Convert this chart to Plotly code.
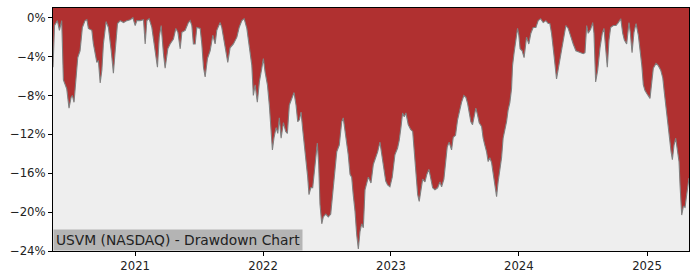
import plotly.graph_objects as go
import pandas as pd

# decimal-year time stamps and drawdown (%)
years = [2020.359, 2020.371, 2020.393, 2020.409, 2020.427, 2020.440, 2020.466, 2020.484, 2020.500, 2020.510,
         2020.523, 2020.539, 2020.552, 2020.570, 2020.588, 2020.609, 2020.623, 2020.635, 2020.662, 2020.674,
         2020.701, 2020.713, 2020.727, 2020.740, 2020.752, 2020.773, 2020.791, 2020.813, 2020.830, 2020.844,
         2020.862, 2020.883, 2020.909, 2020.935, 2020.961, 2020.982, 2021.000, 2021.013, 2021.039, 2021.065,
         2021.078, 2021.091, 2021.109, 2021.130, 2021.148, 2021.162, 2021.174, 2021.188, 2021.203, 2021.221,
         2021.234, 2021.255, 2021.273, 2021.299, 2021.318, 2021.334, 2021.352, 2021.365, 2021.391, 2021.416,
         2021.430, 2021.443, 2021.455, 2021.469, 2021.482, 2021.508, 2021.521, 2021.534, 2021.547, 2021.565,
         2021.586, 2021.607, 2021.625, 2021.638, 2021.651, 2021.664, 2021.677, 2021.690, 2021.709, 2021.724,
         2021.742, 2021.768, 2021.795, 2021.813, 2021.834, 2021.852, 2021.873, 2021.893, 2021.912, 2021.924,
         2021.938, 2021.955, 2021.971, 2021.990, 2022.002, 2022.016, 2022.034, 2022.049, 2022.060, 2022.073,
         2022.086, 2022.102, 2022.115, 2022.127, 2022.141, 2022.159, 2022.177, 2022.190, 2022.205, 2022.224,
         2022.242, 2022.258, 2022.271, 2022.284, 2022.297, 2022.310, 2022.323, 2022.336, 2022.349, 2022.359,
         2022.373, 2022.388, 2022.406, 2022.424, 2022.435, 2022.445, 2022.459, 2022.471, 2022.490, 2022.510,
         2022.529, 2022.545, 2022.557, 2022.576, 2022.596, 2022.615, 2022.627, 2022.641, 2022.654, 2022.666,
         2022.680, 2022.693, 2022.705, 2022.719, 2022.732, 2022.745, 2022.758, 2022.771, 2022.784, 2022.797,
         2022.823, 2022.844, 2022.862, 2022.880, 2022.896, 2022.914, 2022.927, 2022.940, 2022.959, 2022.974,
         2022.992, 2023.010, 2023.031, 2023.052, 2023.065, 2023.078, 2023.091, 2023.104, 2023.117, 2023.135,
         2023.154, 2023.170, 2023.182, 2023.195, 2023.209, 2023.221, 2023.234, 2023.248, 2023.266, 2023.281,
         2023.297, 2023.313, 2023.326, 2023.344, 2023.365, 2023.383, 2023.396, 2023.414, 2023.427, 2023.440,
         2023.455, 2023.474, 2023.487, 2023.505, 2023.521, 2023.539, 2023.552, 2023.570, 2023.586, 2023.599,
         2023.612, 2023.625, 2023.638, 2023.651, 2023.664, 2023.677, 2023.690, 2023.709, 2023.721, 2023.734,
         2023.748, 2023.760, 2023.773, 2023.787, 2023.799, 2023.813, 2023.826, 2023.838, 2023.852, 2023.865,
         2023.877, 2023.891, 2023.904, 2023.916, 2023.930, 2023.943, 2023.951, 2023.963, 2023.982, 2023.990,
         2024.000, 2024.010, 2024.026, 2024.041, 2024.060, 2024.078, 2024.094, 2024.112, 2024.133, 2024.151,
         2024.170, 2024.190, 2024.211, 2024.229, 2024.242, 2024.255, 2024.273, 2024.294, 2024.315, 2024.334,
         2024.346, 2024.367, 2024.385, 2024.404, 2024.424, 2024.445, 2024.463, 2024.484, 2024.502, 2024.516,
         2024.529, 2024.541, 2024.560, 2024.576, 2024.586, 2024.599, 2024.615, 2024.633, 2024.651, 2024.664,
         2024.677, 2024.690, 2024.703, 2024.716, 2024.737, 2024.758, 2024.776, 2024.795, 2024.810, 2024.823,
         2024.841, 2024.852, 2024.859, 2024.870, 2024.883, 2024.898, 2024.914, 2024.932, 2024.945, 2024.959,
         2024.971, 2024.984, 2024.998, 2025.016, 2025.023, 2025.037, 2025.049, 2025.070, 2025.086, 2025.107,
         2025.123, 2025.135, 2025.148, 2025.162, 2025.174, 2025.188, 2025.198, 2025.211, 2025.224, 2025.237,
         2025.250, 2025.258, 2025.271, 2025.284, 2025.297, 2025.310, 2025.323, 2025.328]

drawdown = [-5.1, -0.8, -0.3, -1.3, -0.3, -6.4, -7.3, -9.3, -8.2, -8.0,
            -8.7, -5.7, -4.1, -3.4, -1.0, -0.3, -0.2, -1.1, -1.3, -2.7,
            -4.6, -4.4, -6.7, -5.4, -2.7, -0.4, -1.0, -3.4, -5.7, -3.4,
            -0.6, -0.3, -0.5, -0.3, -0.2, 0.0, -0.8, -0.3, -0.3, -0.2,
            -2.7, -0.3, -0.1, -1.0, -2.7, -3.6, -5.1, -2.0, -0.8, -3.7,
            -5.2, -3.2, -2.7, -2.2, -1.1, -1.5, -3.2, -1.5, -1.3, -0.5,
            -0.3, -0.8, -2.7, -2.7, -1.0, -1.1, -2.7, -5.1, -6.1, -4.2,
            -3.4, -1.8, -2.7, -1.3, -0.8, -0.5, -1.0, -2.0, -3.4, -4.6,
            -3.1, -2.7, -2.0, -1.0, -0.3, -0.1, -1.1, -2.9, -4.9, -8.0,
            -6.9, -8.7, -6.6, -5.2, -4.2, -5.6, -6.9, -9.0, -11.3, -13.6,
            -12.3, -11.3, -11.9, -10.3, -12.4, -10.8, -11.7, -11.9, -9.0, -8.3,
            -7.7, -9.0, -10.7, -10.5, -9.7, -11.5, -13.1, -14.4, -16.4, -18.2,
            -17.5, -17.5, -14.8, -12.9, -15.1, -19.2, -21.2, -20.5, -20.2, -20.5,
            -20.2, -17.9, -15.8, -13.8, -13.1, -10.7, -10.3, -11.7, -12.8, -14.1,
            -16.1, -16.4, -18.2, -19.9, -22.3, -23.8, -22.0, -21.2, -21.6, -17.7,
            -16.4, -17.0, -15.1, -14.4, -13.8, -12.8, -14.1, -15.1, -16.8, -17.2,
            -17.4, -16.4, -14.1, -13.4, -12.6, -11.3, -9.8, -10.2, -9.8, -11.0,
            -11.5, -11.7, -13.8, -16.4, -18.2, -18.9, -17.9, -16.6, -16.9, -16.1,
            -15.6, -16.6, -17.5, -17.7, -17.5, -16.9, -17.4, -16.6, -14.8, -13.3,
            -12.8, -13.6, -12.3, -12.1, -10.5, -9.3, -8.7, -8.0, -8.2, -8.8,
            -9.7, -10.7, -11.0, -10.0, -9.3, -10.0, -10.8, -11.2, -12.4, -13.1,
            -13.8, -14.8, -14.4, -14.9, -16.1, -17.4, -18.4, -16.9, -15.6, -14.4,
            -12.4, -11.5, -10.7, -9.5, -8.7, -7.3, -4.9, -3.6, -1.8, -1.1,
            -1.8, -3.2, -3.4, -4.1, -2.0, -2.7, -1.6, -1.0, -1.0, -0.3,
            -0.1, -0.5, -0.3, -0.6, -0.6, -1.6, -3.7, -6.3, -4.7, -3.2,
            -2.0, -0.8, -1.1, -2.0, -2.7, -3.4, -3.5, -3.6, -3.7, -3.6,
            -0.8, -1.6, -1.2, -0.5, -1.6, -6.6, -5.4, -3.1, -1.6, -1.1,
            -3.4, -5.1, -2.3, -1.0, -0.8, -0.8, -0.5, -0.1, -1.6, -2.3,
            -2.7, -1.6, -0.5, -1.6, -3.6, -1.5, -0.6, -1.8, -3.2, -4.9,
            -6.9, -7.5, -7.8, -8.2, -8.3, -6.6, -5.2, -4.7, -4.9, -5.4,
            -6.2, -7.7, -9.3, -11.0, -12.4, -13.8, -14.6, -13.1, -12.4, -13.4,
            -14.8, -17.2, -20.3, -19.4, -19.5, -18.2, -16.8, -16.5]

y_ticks = [0, -4, -8, -12, -16, -20, -24]
y_tick_labels = ["0%", "\u22124%", "\u22128%", "\u221212%", "\u221216%", "\u221220%", "\u221224%"]
x_tick_years = [2021, 2022, 2023, 2024, 2025]
title_text = "USVM (NASDAQ) - Drawdown Chart"

Y_MIN, Y_MAX = -24.0, 1.0


def to_date(t):
    yr = int(t)
    start = pd.Timestamp(yr, 1, 1)
    end = pd.Timestamp(yr + 1, 1, 1)
    return start + (t - yr) * (end - start)


dates = [to_date(t) for t in years]
top = [Y_MAX] * len(dates)

fig = go.Figure()
fig.add_trace(go.Scatter(x=dates, y=top, mode="lines", line=dict(width=0, color="rgba(0,0,0,0)"),
                         hoverinfo="skip", showlegend=False))
fig.add_trace(go.Scatter(x=dates, y=drawdown, mode="lines", fill="tonexty",
                         fillcolor="#b03030", line=dict(color="#808080", width=1.1),
                         showlegend=False))

fig.update_layout(
    width=700, height=280,
    margin=dict(l=53, r=11, t=7, b=28),
    paper_bgcolor="white",
    plot_bgcolor="#eeeeee",
    font=dict(family="DejaVu Sans", size=11.7, color="#222222"),
    xaxis=dict(
        type="date",
        range=[dates[0], dates[-1]],
        tickvals=[pd.Timestamp(y, 1, 1) for y in x_tick_years],
        ticktext=[str(y) for y in x_tick_years],
        ticks="outside", ticklen=4, tickcolor="black", tickwidth=1,
        showgrid=False, zeroline=False,
        showline=True, linecolor="black", linewidth=1, mirror=True,
    ),
    yaxis=dict(
        range=[Y_MIN, Y_MAX],
        tickvals=y_ticks, ticktext=y_tick_labels,
        ticks="outside", ticklen=4, tickcolor="black", tickwidth=1,
        showgrid=False, zeroline=False,
        showline=True, linecolor="black", linewidth=1, mirror=True,
    ),
    annotations=[dict(
        text=title_text, xref="paper", yref="paper", x=0, y=0,
        xanchor="left", yanchor="bottom", showarrow=False,
        bgcolor="#b4b4b4", font=dict(family="DejaVu Sans", size=13.8, color="#222222"),
        borderpad=2,
    )],
)

fig.write_html("out.html")
